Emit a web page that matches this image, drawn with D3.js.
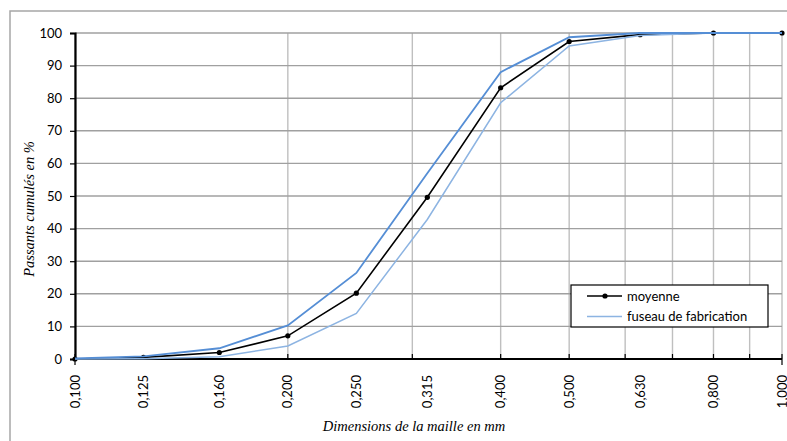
<!DOCTYPE html>
<html>
<head>
<meta charset="utf-8">
<script src="https://cdn.jsdelivr.net/npm/d3@7"></script>
<style>
    html, body { margin: 0; padding: 0; background: #fff; }
    svg { display: block; }
</style>
</head>
<body>
<div id="chart"></div>
<script>
'use strict';

/**
 * Sieve openings in mm (log axis) and their labels.
 */
const sieves = [0.100, 0.125, 0.160, 0.200, 0.250, 0.315, 0.400, 0.500, 0.630, 0.800, 1.000];
const sieveLabels = ['0,100', '0,125', '0,160', '0,200', '0,250', '0,315', '0,400', '0,500', '0,630', '0,800', '1,000'];

/**
 * Cumulative passing in %.
 */
const moyenne = [0, 0.5, 2.0, 7.1, 20.2, 49.6, 83.2, 97.4, 99.5, 100, 100];
const fuseauMax = [0.2, 0.8, 3.3, 10.3, 26.4, 57.0, 88.0, 98.7, 100, 100, 100];
const fuseauMin = [0, 0.1, 0.7, 4.0, 14.0, 42.8, 78.6, 96.0, 99.2, 100, 100];

// grid / ticks
const yTicks = [0, 10, 20, 30, 40, 50, 60, 70, 80, 90, 100];
const xGrid = [0.1, 0.2, 0.3, 0.4, 0.5, 0.6, 0.7, 0.8, 0.9, 1.0];

const WIDTH = 787;
const HEIGHT = 441;
const LABEL_FONT = 'Lato, "Open Sans", sans-serif';
const TITLE_FONT = '"Liberation Serif", "DejaVu Serif", serif';

const svg = d3.select('#chart').append('svg')
    .attr('width', WIDTH)
    .attr('height', HEIGHT);

// outer frame of the chart area
svg.append('rect')
    .attr('x', 10).attr('y', 11)
    .attr('width', WIDTH + 20).attr('height', HEIGHT + 20)
    .attr('fill', '#fff')
    .attr('stroke', '#a6a6a6')
    .attr('stroke-width', 1.5);

const x = d3.scaleLog().domain([0.1, 1]).range([75, 782]);
const y = d3.scaleLinear().domain([0, 100]).range([359, 33]);

// gridlines
svg.append('g').selectAll('line')
    .data(xGrid)
    .enter().append('line')
    .attr('x1', d => x(d)).attr('x2', d => x(d))
    .attr('y1', y(100)).attr('y2', y(0))
    .attr('stroke', '#bfbfbf')
    .attr('stroke-width', 1.4);

svg.append('g').selectAll('line')
    .data(yTicks.slice(1))
    .enter().append('line')
    .attr('x1', x(0.1)).attr('x2', x(1))
    .attr('y1', d => y(d)).attr('y2', d => y(d))
    .attr('stroke', '#a0a0a0')
    .attr('stroke-width', 1.4);

// y axis
const yAxis = svg.append('g')
    .attr('transform', 'translate(' + x(0.1) + ',0)')
    .call(d3.axisLeft(y).tickValues(yTicks).tickSize(5).tickPadding(8));
yAxis.select('.domain').attr('stroke', '#000').attr('stroke-width', 2.2);
yAxis.selectAll('.tick line').attr('stroke', '#000').attr('stroke-width', 1.2);
yAxis.selectAll('.tick text')
    .style('font-family', LABEL_FONT)
    .style('font-size', '13px')
    .attr('fill', '#000');

// x axis line + ticks at 0.1 .. 1.0
svg.append('line')
    .attr('x1', x(0.1)).attr('x2', x(1))
    .attr('y1', y(0)).attr('y2', y(0))
    .attr('stroke', '#000')
    .attr('stroke-width', 2.2);

svg.append('g').selectAll('line')
    .data(xGrid)
    .enter().append('line')
    .attr('x1', d => x(d)).attr('x2', d => x(d))
    .attr('y1', y(0) - 5)
    .attr('y2', (d, i) => (i === 0 || i === xGrid.length - 1) ? y(0) + 6 : y(0))
    .attr('stroke', '#000')
    .attr('stroke-width', 1.2);

// rotated sieve labels
svg.append('g').selectAll('text')
    .data(sieves)
    .enter().append('text')
    .attr('transform', d => 'translate(' + x(d) + ',' + (y(0) + 16) + ') rotate(-90)')
    .attr('text-anchor', 'end')
    .attr('dy', '0.35em')
    .style('font-family', LABEL_FONT)
    .style('font-size', '13px')
    .text((d, i) => sieveLabels[i]);

// series
const line = d3.line()
    .x((d, i) => x(sieves[i]))
    .y(d => y(d));

svg.append('path')
    .datum(moyenne)
    .attr('d', line)
    .attr('fill', 'none')
    .attr('stroke', '#000')
    .attr('stroke-width', 1.6);

svg.append('g').selectAll('circle')
    .data(moyenne)
    .enter().append('circle')
    .attr('cx', (d, i) => x(sieves[i]))
    .attr('cy', d => y(d))
    .attr('r', 2.6)
    .attr('fill', '#000');

svg.append('path')
    .datum(fuseauMin)
    .attr('d', line)
    .attr('fill', 'none')
    .attr('stroke', '#8db4e2')
    .attr('stroke-width', 1.5);

svg.append('path')
    .datum(fuseauMax)
    .attr('d', line)
    .attr('fill', 'none')
    .attr('stroke', '#558ed5')
    .attr('stroke-width', 1.8);

// legend
const legend = svg.append('g').attr('transform', 'translate(571,285)');
legend.append('rect')
    .attr('width', 197).attr('height', 42)
    .attr('fill', '#fff')
    .attr('stroke', '#000')
    .attr('stroke-width', 1.2);

legend.append('line')
    .attr('x1', 16).attr('x2', 51).attr('y1', 11).attr('y2', 11)
    .attr('stroke', '#000').attr('stroke-width', 1.6);
legend.append('circle')
    .attr('cx', 34).attr('cy', 11).attr('r', 2.6).attr('fill', '#000');
legend.append('line')
    .attr('x1', 16).attr('x2', 51).attr('y1', 31.5).attr('y2', 31.5)
    .attr('stroke', '#8db4e2').attr('stroke-width', 1.5);

legend.selectAll('text')
    .data(['moyenne', 'fuseau de fabrication'])
    .enter().append('text')
    .attr('x', 56)
    .attr('y', (d, i) => 11 + i * 20.5)
    .attr('dy', '0.35em')
    .style('font-family', LABEL_FONT)
    .style('font-size', '13px')
    .text(d => d);

// axis titles
svg.append('text')
    .attr('transform', 'translate(34,' + 209 + ') rotate(-90)')
    .attr('text-anchor', 'middle')
    .style('font-family', TITLE_FONT)
    .style('font-style', 'italic')
    .style('font-size', '14.5px')
    .text('Passants cumulés en  %');

svg.append('text')
    .attr('x', 414)
    .attr('y', 431)
    .attr('text-anchor', 'middle')
    .style('font-family', TITLE_FONT)
    .style('font-style', 'italic')
    .style('font-size', '14.5px')
    .text('Dimensions de la maille en mm');
</script>
</body>
</html>
